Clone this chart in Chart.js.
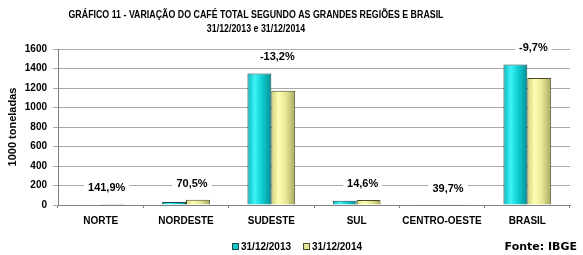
<!DOCTYPE html>
<html>
<head>
<meta charset="utf-8">
<script src="https://cdn.jsdelivr.net/npm/chart.js@4.4.0/dist/chart.umd.min.js"></script>
<style>
  body { margin: 0; background: #fff; }
  #wrap { width: 583px; height: 255px; }
</style>
</head>
<body>
<div id="wrap"><canvas id="cafeChart" width="583" height="255"></canvas></div>
<script>
const regioes = ['NORTE', 'NORDESTE', 'SUDESTE', 'SUL', 'CENTRO-OESTE', 'BRASIL'];
const valores2013 = [4, 32, 1350, 44, 2.4, 1442];
const valores2014 = [10, 55, 1172, 51, 3.4, 1302];
const variacoes = ['141,9%', '70,5%', '-13,2%', '14,6%', '39,7%', '-9,7%'];
const yTicks = [0, 200, 400, 600, 800, 1000, 1200, 1400, 1600];

const tituloLinhas = [
  'GRÁFICO 11 - VARIAÇÃO DO CAFÉ TOTAL SEGUNDO AS GRANDES REGIÕES E BRASIL',
  '31/12/2013 e 31/12/2014'
];
const fonte = 'Fonte: IBGE';

const arial = '"Liberation Sans", Arial, sans-serif';
const tickFont = { family: arial, size: 10, weight: 'bold' };

// shaded bar faces (left bright, right darker)
const sombras = [
  ['#08b8c0', '#3ff2f4', '#0fd0d6', '#078e94'],
  ['#d2d27c', '#fdfdb0', '#e8e894', '#a8a860']
];

const shadePlugin = {
  id: 'shade',
  beforeDatasetsDraw(chart) {
    const ctx = chart.ctx;
    chart.data.datasets.forEach((ds, di) => {
      chart.getDatasetMeta(di).data.forEach(bar => {
        const l = bar.x - bar.width / 2;
        const g = ctx.createLinearGradient(l, 0, l + bar.width, 0);
        const c = sombras[di];
        g.addColorStop(0, c[0]);
        g.addColorStop(0.3, c[1]);
        g.addColorStop(0.6, c[2]);
        g.addColorStop(1, c[3]);
        bar.options = Object.assign({}, bar.options, { backgroundColor: g });
      });
    });
  }
};

// title, percentage labels, legend and source text
const extrasPlugin = {
  id: 'extras',
  afterDraw(chart) {
    const ctx = chart.ctx;
    const x = chart.scales.x;
    const y = chart.scales.y;
    ctx.save();
    ctx.fillStyle = '#000';
    ctx.textAlign = 'center';
    ctx.textBaseline = 'middle';
    ctx.font = 'bold 11px ' + arial;
    const k = 375 / ctx.measureText(tituloLinhas[0]).width;
    [15, 29].forEach((ty, i) => {
      ctx.save();
      ctx.translate(256, ty);
      ctx.scale(k, 1);
      ctx.fillText(tituloLinhas[i], 0, 0);
      ctx.restore();
    });

    variacoes.forEach((txt, i) => {
      const top = Math.min(y.getPixelForValue(valores2013[i]), y.getPixelForValue(valores2014[i]));
      const cx = x.getPixelForValue(i) + 6;
      const cy = top - 16;
      const w = ctx.measureText(txt).width + 8;
      ctx.fillStyle = '#fff';
      ctx.fillRect(cx - w / 2, cy - 7, w, 14);
      ctx.fillStyle = '#000';
      ctx.fillText(txt, cx, cy);
    });

    // legend
    ctx.font = 'bold 10px ' + arial;
    ctx.textAlign = 'left';
    let lx = 232;
    chart.data.datasets.forEach(ds => {
      ctx.fillStyle = ds.backgroundColor;
      ctx.fillRect(lx + 0.5, 243.5, 6, 6);
      ctx.strokeStyle = ds.borderColor;
      ctx.lineWidth = 1;
      ctx.strokeRect(lx + 0.5, 243.5, 6, 6);
      ctx.fillStyle = '#000';
      ctx.fillText(ds.label, lx + 9, 247);
      lx += 71;
    });

    ctx.font = 'bold 11px "DejaVu Sans", Verdana, sans-serif';
    ctx.textAlign = 'right';
    ctx.fillText(fonte, 577, 247);
    ctx.restore();
  }
};

const ctx = document.getElementById('cafeChart').getContext('2d');
new Chart(ctx, {
  type: 'bar',
  data: {
    labels: regioes,
    datasets: [{
      label: '31/12/2013',
      data: valores2013,
      backgroundColor: '#12c6cc',
      borderColor: '#15494b',
      borderWidth: 1
    }, {
      label: '31/12/2014',
      data: valores2014,
      backgroundColor: '#e6e698',
      borderColor: '#4a4a2a',
      borderWidth: 1
    }]
  },
  options: {
    responsive: false,
    animation: false,
    categoryPercentage: 0.56,
    barPercentage: 1,
    layout: { padding: { top: 49, right: 13, left: 0, bottom: 28 } },
    plugins: {
      title: { display: false },
      tooltip: { enabled: false },
      legend: { display: false }
    },
    scales: {
      x: {
        grid: { display: true, drawOnChartArea: false, offset: true, color: '#808080', tickLength: 3 },
        border: { color: '#808080' },
        ticks: { color: '#000', font: tickFont, padding: 7, maxRotation: 0, autoSkip: false },
        afterFit(scale) { scale.height = 22; }
      },
      y: {
        min: 0,
        max: 1600,
        afterBuildTicks(scale) { scale.ticks = yTicks.map(v => ({ value: v })); },
        grid: { color: '#a8a8a8', tickLength: 5 },
        border: { color: '#808080' },
        ticks: { color: '#000', font: tickFont, padding: 6, callback: v => String(v) },
        title: { display: true, text: '1000 toneladas', color: '#000', font: { family: arial, size: 11, weight: 'bold' }, padding: { top: 6, bottom: 0 } },
        afterFit(scale) { scale.width = 58; }
      }
    }
  },
  plugins: [shadePlugin, extrasPlugin]
});
</script>
</body>
</html>
